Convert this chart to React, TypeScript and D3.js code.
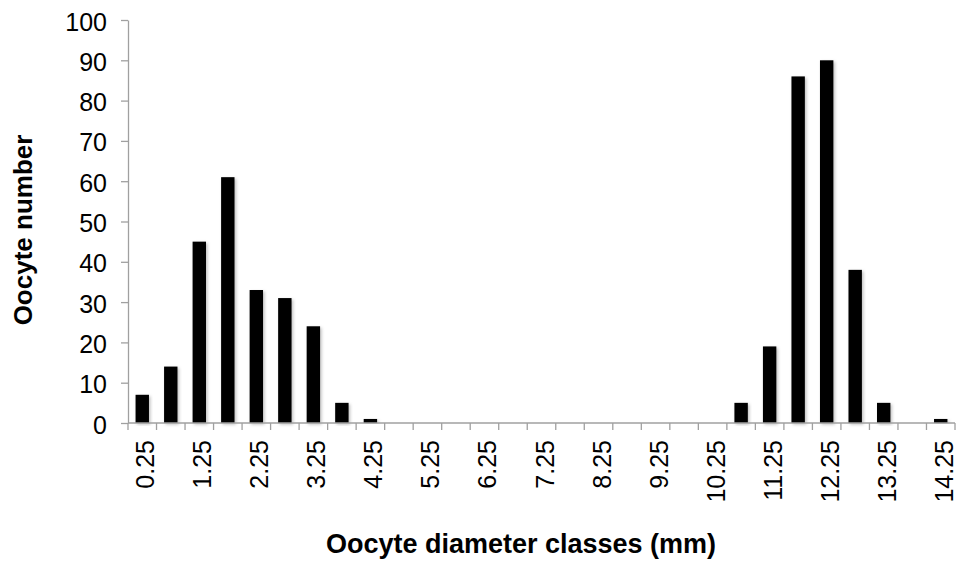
import React, { useRef, useEffect } from 'react'
import * as d3 from 'd3'

const classes = ["0.25", "0.75", "1.25", "1.75", "2.25", "2.75", "3.25", "3.75", "4.25", "4.75", "5.25", "5.75", "6.25", "6.75", "7.25", "7.75", "8.25", "8.75", "9.25", "9.75", "10.25", "10.75", "11.25", "11.75", "12.25", "12.75", "13.25", "13.75", "14.25"]
const counts = [7, 14, 45, 61, 33, 31, 24, 5, 1, 0, 0, 0, 0, 0, 0, 0, 0, 0, 0, 0, 0, 5, 19, 86, 90, 38, 5, 0, 1]
const yTicks = [0, 10, 20, 30, 40, 50, 60, 70, 80, 90, 100]

function App() {
  const ref = useRef<SVGSVGElement>(null)

  useEffect(() => {
    const svg = d3.select(ref.current)
    svg.selectAll('*').remove()

    const width = 960
    const height = 567
    const margin = { top: 20, right: 5, bottom: 144, left: 128 }
    const font = "'Liberation Sans', Arial, sans-serif"
    const axisColor = '#a0a0a0'

    svg.attr('width', width).attr('height', height)

    const defs = svg.append('defs')
    defs.append('filter')
      .attr('id', 'shadow')
      .attr('x', '-30%').attr('y', '-10%').attr('width', '160%').attr('height', '120%')
      .append('feDropShadow')
      .attr('dx', 1.5).attr('dy', 1.5).attr('stdDeviation', 1.5)
      .attr('flood-color', '#000').attr('flood-opacity', 0.25)

    const x = d3.scaleBand()
      .domain(classes)
      .range([margin.left, width - margin.right])
      .padding(0)

    const y = d3.scaleLinear()
      .domain([0, 100])
      .range([height - margin.bottom, margin.top])

    const barW = x.bandwidth() * 0.47

    // bars
    svg.append('g')
      .selectAll('rect')
      .data(classes.map((c, i) => ({ c, v: counts[i] })).filter(d => d.v > 0))
      .enter()
      .append('rect')
      .attr('x', d => (x(d.c) as number) + (x.bandwidth() - barW) / 2)
      .attr('y', d => y(d.v))
      .attr('width', barW)
      .attr('height', d => y(0) - y(d.v))
      .attr('fill', '#000')
      .attr('filter', 'url(#shadow)')

    // y axis
    const yAxis = svg.append('g')
      .attr('transform', `translate(${margin.left},0)`)
      .call(d3.axisLeft(y).tickValues(yTicks).tickSize(7).tickPadding(14).tickSizeOuter(0))
    yAxis.select('.domain').attr('stroke', axisColor).attr('stroke-width', 1.3)
    yAxis.selectAll('.tick line').attr('stroke', axisColor).attr('stroke-width', 1.3)
    yAxis.selectAll('.tick text')
      .attr('fill', '#000')
      .attr('dy', '0.4em')
      .style('font-family', font)
      .style('font-size', '25px')

    // x axis: ticks at category boundaries, labels every other class
    const xg = svg.append('g')
    xg.append('line')
      .attr('x1', margin.left).attr('x2', width - margin.right)
      .attr('y1', y(0)).attr('y2', y(0))
      .attr('stroke', axisColor).attr('stroke-width', 1.3)
    xg.selectAll('line.tick')
      .data(classes.concat(['end']))
      .enter()
      .append('line')
      .attr('class', 'tick')
      .attr('x1', (d, i) => margin.left + i * x.bandwidth())
      .attr('x2', (d, i) => margin.left + i * x.bandwidth())
      .attr('y1', y(0))
      .attr('y2', y(0) + 7)
      .attr('stroke', axisColor).attr('stroke-width', 1.3)
    xg.selectAll('text')
      .data(classes.filter((d, i) => i % 2 === 0))
      .enter()
      .append('text')
      .attr('transform', d => `translate(${(x(d) as number) + x.bandwidth() / 2 + 12},${y(0) + 17}) rotate(-90)`)
      .attr('text-anchor', 'end')
      .style('font-family', font)
      .style('font-size', '25px')
      .attr('fill', '#000')
      .text(d => d)

    // titles
    svg.append('text')
      .attr('x', 521)
      .attr('y', 553)
      .attr('text-anchor', 'middle')
      .style('font-family', font)
      .style('font-size', '27px')
      .style('font-weight', 'bold')
      .text('Oocyte diameter classes (mm)')

    svg.append('text')
      .attr('transform', `translate(32,230) rotate(-90)`)
      .attr('text-anchor', 'middle')
      .style('font-family', font)
      .style('font-size', '26px')
      .style('font-weight', 'bold')
      .text('Oocyte number')
  }, [])

  return (
    <svg ref={ref} style={{ position: 'absolute', left: 0, top: 0 }}></svg>
  )
}

export default App
